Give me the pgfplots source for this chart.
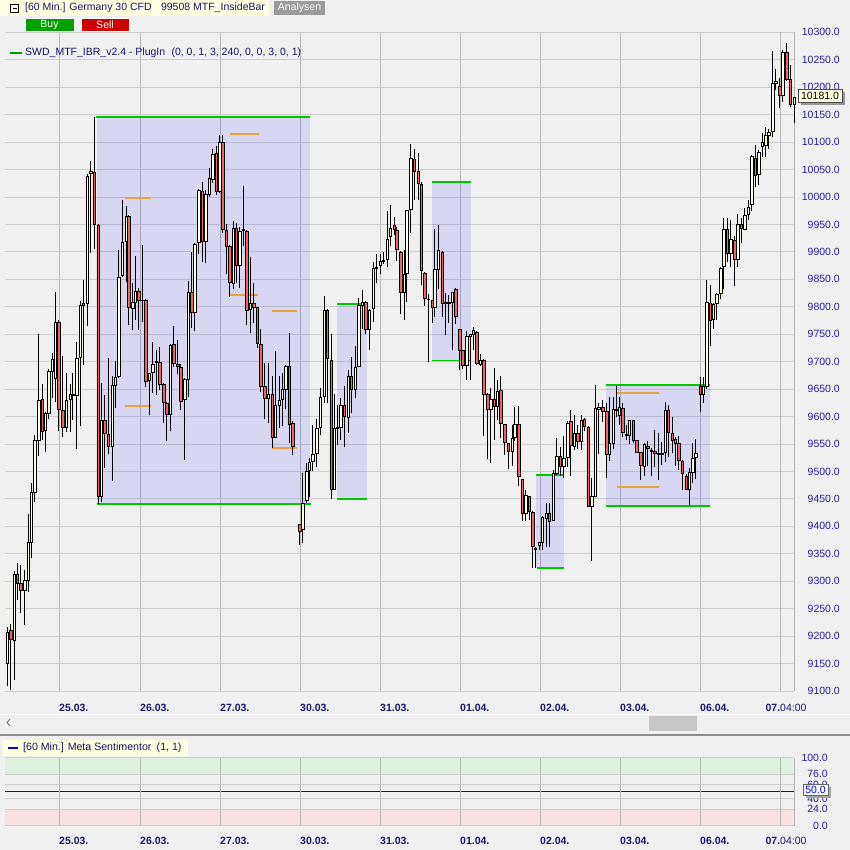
\documentclass[border=0pt]{standalone}
\usepackage{fontspec}
\setmainfont{Liberation Sans}
\usepackage{pgfplots}
\usepackage{pgfplotstable}
\pgfplotsset{compat=1.18}

\definecolor{bgc}{RGB}{240,240,240}
\definecolor{gridh}{RGB}{205,205,205}
\definecolor{gridv}{RGB}{182,182,182}
\definecolor{bullc}{RGB}{255,255,230}
\definecolor{bearc}{RGB}{240,100,100}
\definecolor{ibgreen}{RGB}{0,200,0}
\definecolor{iborange}{RGB}{232,162,64}
\definecolor{labc}{RGB}{40,30,160}
\definecolor{datec}{RGB}{25,25,110}
\definecolor{navyt}{RGB}{20,20,110}
\definecolor{hdr}{RGB}{255,255,225}
\definecolor{sentg}{RGB}{222,240,222}
\definecolor{sentr}{RGB}{246,224,224}
\definecolor{buyg}{RGB}{0,160,0}
\definecolor{sellr}{RGB}{204,0,0}
\definecolor{anag}{RGB}{155,155,155}

\newcommand\lblfont{\fontsize{10.5}{12}\selectfont}
\newcommand\datefont{\fontsize{10.5}{12}\selectfont\bfseries}

% 60 min candles: x = horizontal position, o h l c
\pgfplotstableread{
x o h l c
7.3 9151 9217 9109 9207
10.7 9211 9222 9102 9194
14.0 9193 9319 9120 9312
17.3 9312 9333 9266 9297
20.7 9296 9329 9242 9284
24.7 9284 9320 9221 9301
28.0 9301 9423 9280 9371
31.3 9371 9479 9343 9462
34.7 9462 9566 9444 9556
38.7 9556 9750 9529 9629
42.0 9631 9659 9557 9573
45.3 9575 9608 9536 9606
48.7 9606 9686 9596 9683
52.0 9683 9716 9634 9704
55.3 9669 9827 9626 9772
58.7 9772 9775 9573 9613
62.7 9612 9711 9563 9580
66.0 9580 9680 9571 9629
70.0 9631 9659 9571 9641
72.7 9641 9680 9594 9638
76.7 9638 9736 9540 9706
80.0 9708 9810 9582 9803
83.3 9806 9849 9694 9802
87.3 9807 10041 9765 10037
90.7 10044 10066 9898 10047
94.0 10045 10146 9906 9950
98.0 9949 9950 9441 9455
101.3 9455 9662 9444 9594
104.7 9594 9640 9507 9570
108.0 9568 9706 9531 9545
112.0 9545 9674 9483 9657
115.3 9657 9702 9615 9671
118.7 9673 9903 9670 9854
122.0 9857 9995 9855 9917
126.0 9920 9983 9845 9965
128.7 9965 9967 9767 9799
132.7 9797 9843 9757 9808
135.3 9809 9893 9776 9829
138.7 9829 9835 9758 9812
142.3 9812 9913 9773 9811
145.7 9811 9815 9653 9664
149.3 9666 9680 9603 9679
152.7 9680 9735 9642 9695
156.0 9698 9721 9640 9700
159.7 9699 9727 9649 9659
163.7 9659 9662 9589 9626
166.7 9624 9627 9555 9604
170.3 9604 9733 9574 9730
173.7 9732 9765 9690 9697
177.7 9695 9740 9677 9691
180.7 9690 9695 9611 9627
184.7 9632 9670 9521 9668
188.0 9668 9847 9636 9826
191.7 9826 9900 9761 9790
194.7 9790 9916 9755 9914
198.7 9917 10014 9897 10013
202.0 10011 10028 9882 9920
205.7 9920 10013 9879 10004
209.0 10004 10052 10000 10034
212.7 10032 10087 10025 10078
216.0 10080 10093 10004 10010
219.7 10010 10113 10007 10100
222.7 10100 10113 9934 9941
226.0 9940 9950 9859 9910
229.7 9910 9912 9818 9844
233.0 9843 9957 9832 9943
236.3 9943 9952 9844 9876
239.7 9876 9946 9834 9938
243.3 9941 10020 9910 9939
246.7 9938 9940 9766 9794
250.3 9796 9891 9752 9806
253.7 9806 9843 9771 9799
257.3 9799 9800 9724 9734
260.7 9732 9760 9644 9655
264.7 9655 9697 9595 9633
268.0 9633 9697 9588 9641
272.0 9640 9673 9542 9562
275.3 9562 9720 9561 9621
279.0 9621 9673 9579 9630
282.0 9631 9679 9582 9649
285.7 9649 9694 9613 9692
289.0 9692 9753 9552 9585
292.7 9587 9592 9530 9545
299.7 9403 9405 9366 9391
302.7 9394 9497 9369 9442
306.7 9448 9515 9442 9501
309.3 9503 9524 9454 9517
312.7 9518 9585 9500 9532
316.7 9533 9595 9508 9579
320.0 9581 9652 9567 9635
324.0 9637 9820 9624 9793
327.0 9793 9795 9624 9706
331.0 9703 9751 9450 9468
334.0 9468 9641 9466 9579
337.3 9579 9621 9549 9580
340.7 9580 9633 9557 9621
344.3 9621 9656 9544 9600
348.0 9599 9685 9570 9673
351.3 9673 9709 9606 9649
355.0 9649 9728 9633 9690
358.7 9692 9816 9690 9803
362.0 9803 9831 9759 9809
365.7 9808 9810 9751 9759
369.0 9759 9796 9721 9794
373.0 9797 9882 9773 9870
376.3 9870 9896 9843 9872
380.0 9876 9896 9860 9882
383.3 9882 9900 9878 9884
387.0 9886 9975 9873 9923
390.0 9929 9986 9910 9943
394.0 9948 9963 9931 9941
396.7 9940 9945 9884 9905
400.7 9900 9902 9787 9826
404.0 9826 9904 9776 9860
406.7 9861 9977 9809 9975
410.7 9978 10097 9934 10070
414.0 10069 10088 9995 10046
418.0 10046 10080 9995 10025
421.0 10023 10028 9839 9867
424.7 9861 9863 9802 9816
428.0 9814 9823 9700 9813
432.0 9811 9812 9771 9799
434.7 9799 9942 9782 9868
438.3 9868 9949 9832 9902
442.0 9900 9902 9782 9806
445.3 9809 9825 9749 9806
448.7 9806 9822 9770 9809
452.3 9808 9826 9721 9826
455.7 9832 9834 9769 9782
459.7 9759 9760 9685 9720
462.7 9720 9721 9686 9694
466.7 9694 9755 9667 9746
470.0 9746 9750 9667 9749
473.3 9749 9764 9721 9757
476.7 9753 9755 9694 9697
480.0 9696 9714 9692 9703
483.7 9703 9704 9564 9641
487.7 9641 9642 9522 9613
490.7 9613 9652 9515 9631
494.0 9632 9688 9558 9618
497.3 9618 9667 9594 9646
500.7 9647 9673 9561 9588
504.7 9586 9587 9530 9553
508.0 9551 9552 9504 9536
512.0 9536 9585 9509 9561
514.7 9563 9618 9555 9585
518.7 9585 9620 9473 9491
522.0 9486 9487 9409 9423
525.7 9423 9467 9409 9456
529.0 9454 9455 9412 9427
532.7 9426 9427 9324 9363
535.3 9360 9363 9324 9358
539.3 9365 9372 9357 9371
542.3 9371 9418 9357 9417
546.0 9415 9442 9363 9424
549.3 9423 9442 9363 9409
553.3 9411 9502 9410 9496
556.7 9496 9561 9494 9528
560.3 9527 9545 9492 9510
563.7 9510 9565 9488 9524
567.7 9526 9591 9508 9588
570.7 9591 9612 9491 9547
574.3 9546 9603 9539 9569
577.7 9569 9585 9541 9555
581.0 9555 9603 9539 9594
584.3 9595 9597 9573 9582
588.0 9581 9582 9436 9437
591.7 9437 9488 9336 9454
595.0 9455 9658 9454 9615
598.7 9614 9624 9532 9616
602.7 9616 9630 9590 9610
606.7 9610 9624 9488 9532
609.3 9532 9635 9519 9551
613.0 9551 9635 9540 9613
616.3 9612 9655 9600 9614
619.3 9603 9636 9585 9617
622.7 9615 9625 9563 9571
626.0 9568 9585 9557 9566
629.3 9565 9593 9550 9593
633.3 9593 9594 9551 9556
636.7 9556 9557 9533 9535
640.7 9535 9536 9485 9512
644.0 9510 9551 9491 9550
647.7 9545 9555 9509 9542
651.0 9539 9542 9491 9536
654.7 9536 9576 9508 9533
658.0 9533 9570 9485 9531
661.7 9531 9554 9511 9533
665.0 9534 9627 9518 9612
668.0 9612 9621 9527 9571
672.0 9570 9600 9533 9556
675.0 9559 9563 9509 9551
678.7 9551 9564 9503 9520
682.0 9518 9521 9467 9496
686.0 9492 9496 9467 9468
689.0 9468 9506 9439 9498
692.7 9499 9551 9479 9524
695.7 9526 9559 9487 9533
700.0 9655 9672 9609 9641
703.0 9641 9672 9625 9655
706.7 9656 9849 9650 9808
710.0 9806 9840 9728 9776
713.3 9777 9807 9759 9805
716.7 9806 9825 9775 9823
720.7 9825 9873 9815 9870
723.7 9873 9961 9832 9941
727.3 9941 9961 9882 9897
730.7 9897 9958 9873 9923
734.7 9922 9928 9837 9886
737.7 9886 9969 9873 9951
741.3 9951 9961 9917 9943
744.7 9941 9979 9939 9967
748.3 9969 9994 9958 9981
751.7 9987 10077 9975 10074
755.0 10071 10095 10018 10040
758.7 10042 10086 10022 10081
762.0 10092 10116 10072 10099
765.7 10095 10128 10072 10113
768.7 10113 10123 10087 10117
772.7 10119 10265 10109 10207
775.7 10207 10234 10195 10210
779.7 10201 10216 10162 10186
782.7 10186 10267 10173 10264
786.7 10264 10280 10212 10214
790.0 10214 10240 10163 10169
794.0 10169 10181 10134 10181
}\candles

\pgfplotsset{
  chartax/.style={
    scale only axis, width=789pt, xmin=5, xmax=794, enlargelimits=false,
    axis line style={draw=none}, major tick length=0pt,
    scaled y ticks=false,
    xtick={59,140,220,300,380,460,540,620,700},
    xticklabels={25.03.,26.03.,27.03.,30.03.,31.03.,01.04.,02.04.,03.04.,06.04.},
    extra x ticks={780,794}, extra x tick labels={{\bfseries 07.}{\mdseries 04:00},{}},
    extra x tick style={grid=major, xticklabel style={anchor=north, xshift=6pt}},
    xticklabel style={font=\datefont, text=datec, anchor=north west, inner sep=0pt},
    yticklabel pos=right,
    yticklabel style={font=\lblfont, text=labc, anchor=east, inner sep=0pt,
      /pgf/number format/fixed, /pgf/number format/fixed zerofill,
      /pgf/number format/precision=1, /pgf/number format/1000 sep={},
      /pgf/number format/assume math mode=true},
    grid=major,
    major x grid style={gridv, line width=0.8pt},
    major y grid style={gridh, line width=0.8pt},
  },
  priceax/.style={chartax, at={(5pt,159pt)}, anchor=south west, height=658.7pt, ymin=9100, ymax=10300},
}

\begin{document}
\begin{tikzpicture}[x=1pt,y=1pt]
\fill[bgc] (0,0) rectangle (850,850);

% header
\fill[hdr] (0,834) rectangle (269,850);
\draw[black, line width=0.6pt] (10.5,838) rectangle (18.5,846);
\draw[black, line width=0.6pt] (12.5,842) -- (16.5,842);
\node[anchor=west, inner sep=0pt, text=navyt, font=\fontsize{10.5}{12}\selectfont] at (25,842) {[60 Min.] Germany 30 CFD\hspace{0.9em}99508 MTF\_InsideBar};
\fill[anag] (274,835) rectangle (325,849);
\node[text=white, font=\fontsize{10.5}{12}\selectfont] at (299.5,842) {Analysen};
\draw[white, fill=buyg, line width=0.6pt] (25,819) rectangle (74,832);
\node[text=white, font=\fontsize{10.5}{12}\selectfont] at (49.5,825.5) {Buy};
\draw[white, fill=sellr, line width=0.6pt] (81,819) rectangle (129,832);
\node[text=white, font=\fontsize{10.5}{12}\selectfont] at (105,825.5) {Sell};

% price panel
\begin{axis}[priceax, clip=false, xticklabel style={yshift=-13pt}, yticklabel style={xshift=46pt},
  ytick={9100,9150,...,10300}]
% inside bar ranges
\addplot[draw=none, fill=blue, fill opacity=0.1] coordinates {(97,9441) (310,9441) (310,10145) (97,10145)};
\addplot[draw=none, fill=blue, fill opacity=0.1] coordinates {(337,9450) (367,9450) (367,9805) (337,9805)};
\addplot[draw=none, fill=blue, fill opacity=0.1] coordinates {(432,9702) (471,9702) (471,10027) (432,10027)};
\addplot[draw=none, fill=blue, fill opacity=0.1] coordinates {(536,9324) (564,9324) (564,9494) (536,9494)};
\addplot[draw=none, fill=blue, fill opacity=0.1] coordinates {(606,9437) (710,9437) (710,9658) (606,9658)};
% range borders
\addplot[ibgreen, line width=1.8pt] coordinates {(96,10145) (310,10145)};
\addplot[ibgreen, line width=1.8pt] coordinates {(97,9441) (311,9441)};
\addplot[ibgreen, line width=1.8pt] coordinates {(337,9805) (367,9805)};
\addplot[ibgreen, line width=1.8pt] coordinates {(337,9450) (367,9450)};
\addplot[ibgreen, line width=1.8pt] coordinates {(432,10027) (471,10027)};
\addplot[ibgreen, line width=1.8pt] coordinates {(432,9702) (471,9702)};
\addplot[ibgreen, line width=1.8pt] coordinates {(536,9494) (564,9494)};
\addplot[ibgreen, line width=1.8pt] coordinates {(537,9324) (564,9324)};
\addplot[ibgreen, line width=1.8pt] coordinates {(606,9658) (710,9658)};
\addplot[ibgreen, line width=1.8pt] coordinates {(606,9437) (710,9437)};
% inner levels
\addplot[iborange, line width=1.8pt] coordinates {(125,9998) (151,9998)};
\addplot[iborange, line width=1.8pt] coordinates {(125,9619) (151,9619)};
\addplot[iborange, line width=1.8pt] coordinates {(230,10114) (259,10114)};
\addplot[iborange, line width=1.8pt] coordinates {(230,9821) (258,9821)};
\addplot[iborange, line width=1.8pt] coordinates {(272,9792) (297,9792)};
\addplot[iborange, line width=1.8pt] coordinates {(272,9543) (297,9543)};
\addplot[iborange, line width=1.8pt] coordinates {(617,9643) (659,9643)};
\addplot[iborange, line width=1.8pt] coordinates {(617,9472) (659,9472)};
% wicks
\addplot[draw=none, mark=none, error bars/.cd, y dir=plus, y explicit, error mark=none,
  error bar style={draw=black, solid, line width=0.7pt}]
  table[x=x, y=l, y error expr=\thisrow{h}-\thisrow{l}] {\candles};
\end{axis}

% candle bodies
\begin{axis}[priceax, hide axis, clip=false, ybar stacked, bar width=2.4pt]
\addplot[draw=none, fill=none] table[x=x, y expr={min(\thisrow{o},\thisrow{c})}] {\candles};
\addplot[draw=black, fill=bullc, line width=0.55pt] table[x=x, y expr={max(\thisrow{c}-\thisrow{o},0)}] {\candles};
\addplot[draw=black, fill=bearc, line width=0.55pt] table[x=x, y expr={max(\thisrow{o}-\thisrow{c},0)}] {\candles};
\end{axis}

% plug-in legend
\draw[buyg, line width=1.5pt] (10,797) -- (22,797);
\node[anchor=west, inner sep=0pt, text=navyt, font=\fontsize{10.5}{12}\selectfont] at (25,797) {SWD\_MTF\_IBR\_v2.4 - PlugIn\hspace{0.6em}(0, 0, 1, 3, 240, 0, 0, 3, 0, 1)};

% last price marker
\fill[black!40] (801,745) rectangle (845,758);
\draw[black!70, fill=hdr, line width=0.5pt] (798,748) rectangle (842,761);
\node[text=black, font=\lblfont] at (820,754.5) {10181.0};

% scroll bar
\draw[white, line width=1pt] (0,135.5) -- (850,135.5);
\draw[black!60, line width=0.8pt] (10,131) -- (7,127.5) -- (10,124);
\fill[black!22] (649,119) rectangle (697,134);
\draw[black!45, line width=1.5pt] (0,115) -- (850,115);

% sentiment panel
\begin{axis}[chartax, at={(5pt,24.3pt)}, anchor=south west, height=68pt, ymin=0, ymax=100,
  axis on top, xticklabel style={yshift=-11pt}, yticklabel style={xshift=34pt},
  ytick={0,24,40,60,76,100}]
\addplot[draw=none, fill=sentg] coordinates {(5,76) (794,76) (794,100) (5,100)};
\addplot[draw=none, fill=sentr] coordinates {(5,0) (794,0) (794,24) (5,24)};
\addplot[blue, line width=1.2pt] coordinates {(5,50) (794,50)};
\end{axis}

\fill[hdr] (3,94) rectangle (188,110);
\draw[blue, line width=1.5pt] (8,102) -- (18,102);
\node[anchor=west, inner sep=0pt, text=navyt, font=\fontsize{10.6}{12}\selectfont] at (23,102) {[60 Min.] Meta Sentimentor\hspace{0.5em}(1, 1)};

\fill[black!35] (806,52) rectangle (831,63);
\draw[black!60, fill=white, line width=0.5pt] (803,55) rectangle (828,66);
\node[text=blue, font=\lblfont] at (815.5,60.5) {50.0};

\pgfresetboundingbox
\useasboundingbox (0,0) rectangle (850,850);
\end{tikzpicture}
\end{document}
